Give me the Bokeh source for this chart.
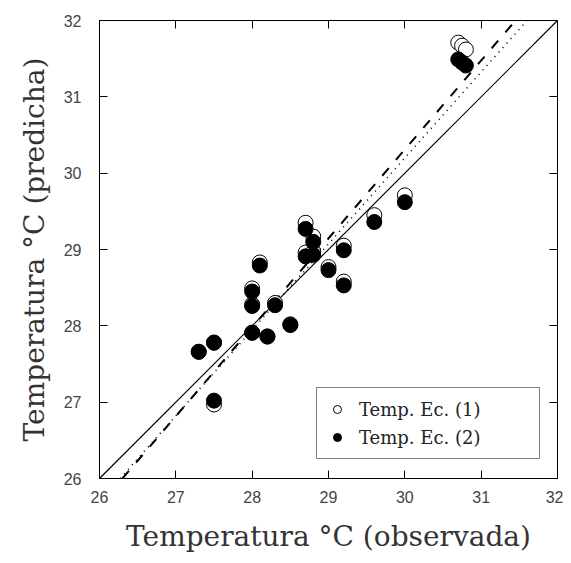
from bokeh.plotting import figure
from bokeh.models import (Range1d, LinearAxis, FixedTicker, Legend, LegendItem,
                          ColumnDataSource, CustomJSTickFormatter)
from bokeh.embed import file_html
from bokeh.resources import INLINE

# observed temperature (x) and predicted temperatures (y)
observed = [27.3, 27.5, 27.5, 28.0, 28.0, 28.0, 28.1, 28.2, 28.3, 28.5, 28.7,
            28.7, 28.8, 28.8, 29.0, 29.2, 29.2, 29.6, 30.0, 30.7, 30.75, 30.8]
pred_ec1 = [27.66, 27.78, 26.97, 27.91, 28.28, 28.49, 28.83, 27.86, 28.30, 28.02, 28.96,
            29.35, 29.17, 28.97, 28.77, 29.05, 28.58, 29.45, 29.71, 31.71, 31.67, 31.62]
pred_ec2 = [27.66, 27.78, 27.02, 27.91, 28.26, 28.45, 28.79, 27.86, 28.27, 28.01, 28.91,
            29.27, 29.10, 28.93, 28.73, 28.99, 28.53, 29.36, 29.62, 31.49, 31.45, 31.41]

# reference lines (end points)
line_11_x = [26.0, 32.0]
line_11_y = [26.0, 32.0]
line_dash_x = [26.3, 31.45]
line_dash_y = [26.0, 32.0]
line_dot_x = [26.27, 31.6]
line_dot_y = [26.0, 32.0]

ticks = [26, 27, 28, 29, 30, 31, 32]
labels = ["Temp. Ec. (1)", "Temp. Ec. (2)"]
x_title = "Temperatura °C (observada)"
y_title = "Temperatura °C (predicha)"

p = figure(width=563, height=555, output_backend="svg", toolbar_location=None,
           x_range=Range1d(26, 32), y_range=Range1d(26, 32),
           min_border_left=99, min_border_right=6, min_border_top=20, min_border_bottom=71)
p.xgrid.visible = False
p.ygrid.visible = False
p.outline_line_color = "black"
p.background_fill_color = "white"
p.border_fill_color = "white"

title_font = "DejaVu Serif"
tick_font = "Liberation Sans"

for ax in (p.xaxis[0], p.yaxis[0]):
    ax.ticker = FixedTicker(ticks=ticks)
    ax.major_tick_in = 8
    ax.major_tick_out = 0
    ax.minor_tick_line_color = None
    ax.axis_line_color = "black"
    ax.major_tick_line_color = "black"
    ax.major_label_text_font = tick_font
    ax.major_label_text_font_size = "16px"
    ax.major_label_text_color = "#444444"
    ax.axis_label_text_font = title_font
    ax.axis_label_text_font_size = "28px"
    ax.axis_label_text_font_style = "normal"
    ax.axis_label_text_color = "#333333"

p.xaxis[0].axis_label = x_title
p.yaxis[0].axis_label = y_title
p.xaxis[0].major_label_standoff = 12
p.yaxis[0].major_label_standoff = 18
p.xaxis[0].axis_label_standoff = 14
p.yaxis[0].axis_label_standoff = 10

for loc in ("above", "right"):
    ax = LinearAxis(ticker=FixedTicker(ticks=ticks),
                    formatter=CustomJSTickFormatter(code="return ''"))
    ax.major_tick_in = 8
    ax.major_tick_out = 0
    ax.minor_tick_line_color = None
    ax.major_label_standoff = 0
    ax.axis_line_color = "black"
    p.add_layout(ax, loc)

p.line(line_11_x, line_11_y, line_color="black", line_width=1.2)
p.line(line_dash_x, line_dash_y, line_color="black", line_width=2, line_dash="10 11")
p.line(line_dot_x, line_dot_y, line_color="black", line_width=1.6, line_dash="1 5")

src = ColumnDataSource(dict(x=observed, y1=pred_ec1, y2=pred_ec2))
r1 = p.scatter("x", "y1", source=src, size=15, fill_color="white", line_color="black", line_width=1)
r2 = p.scatter("x", "y2", source=src, size=15, fill_color="black", line_color="black", line_width=1)

legend = Legend(items=[LegendItem(label=labels[0], renderers=[r1]),
                       LegendItem(label=labels[1], renderers=[r2])],
                location=(217, 19))
legend.border_line_color = "black"
legend.border_line_width = 1
legend.background_fill_color = "white"
legend.background_fill_alpha = 1
legend.label_text_font = title_font
legend.label_text_font_size = "18px"
legend.label_text_color = "#222222"
legend.glyph_width = 20
legend.glyph_height = 22
legend.label_height = 22
legend.label_width = 170
legend.padding = 10
legend.spacing = 6
legend.label_standoff = 12
legend.margin = 0
p.add_layout(legend, "center")

open("out.html", "w").write(file_html(p, INLINE))
